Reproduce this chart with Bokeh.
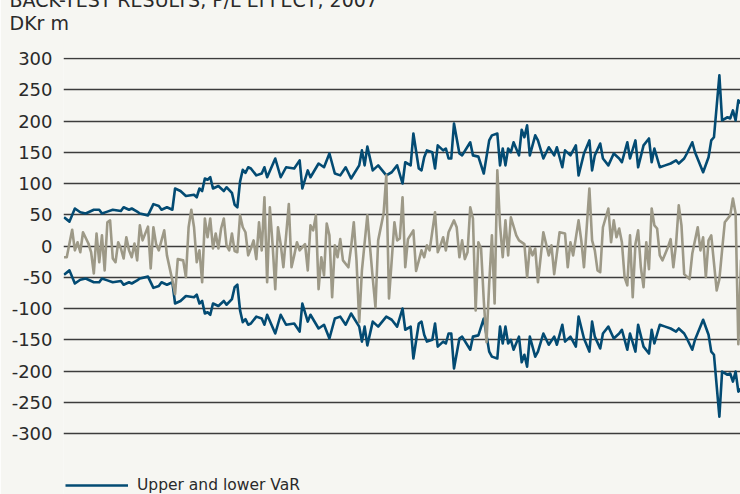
from bokeh.plotting import figure
from bokeh.models import Range1d, FixedTicker, Title, Legend, LegendItem
from bokeh.embed import file_html
from bokeh.resources import INLINE

# Trading day index (2007) and values, DKr m
var_day = [
    0, 2, 4, 6, 8, 11, 13, 14, 16, 18,
    21, 22, 24, 25, 27, 28, 31, 33, 35, 36,
    38, 40, 41, 43, 45, 48, 49, 50, 51, 52,
    53, 54, 55, 57, 59, 60, 62, 63, 64, 65,
    66, 67, 68, 69, 71, 73, 74, 75, 78, 80,
    82, 85, 87, 88, 90, 91, 94, 96, 98, 100,
    102, 104, 106, 109, 110, 111, 112, 114, 116, 119,
    121, 123, 125, 126, 128, 129, 131, 132, 133, 134,
    136, 137, 138, 140, 141, 142, 143, 144, 146, 147,
    150, 151, 153, 155, 157, 158, 160, 161, 162, 163,
    164, 165, 166, 168, 169, 170, 171, 172, 174, 175,
    177, 179, 181, 182, 184, 185, 187, 189, 190, 192,
    194, 195, 196, 198, 199, 201, 203, 205, 206, 208,
    209, 211, 212, 214, 216, 217, 218, 220, 222, 224,
    226, 227, 229, 230, 232, 233, 236, 238, 239, 240,
    242, 243, 245, 246, 247, 248, 249, 250, 251,
]
var_value = [
    46, 39, 60, 54, 52, 58, 58, 52, 55, 58,
    56, 62, 58, 60, 55, 52, 49, 67, 64, 58,
    62, 58, 92, 88, 80, 82, 78, 92, 88, 108,
    106, 110, 92, 96, 88, 94, 85, 66, 62, 103,
    122, 117, 126, 124, 113, 116, 126, 110, 140, 110,
    126, 124, 137, 92, 121, 110, 132, 126, 148, 116,
    113, 126, 108, 129, 153, 129, 159, 121, 129, 113,
    118, 129, 100, 134, 129, 180, 124, 121, 142, 153,
    150, 124, 161, 153, 156, 140, 140, 196, 148, 145,
    166, 145, 143, 116, 169, 177, 180, 129, 156, 129,
    156, 150, 166, 145, 186, 174, 193, 145, 177, 169,
    140, 158, 145, 158, 126, 153, 145, 161, 113, 148,
    169, 121, 145, 164, 140, 129, 148, 140, 134, 166,
    140, 169, 126, 161, 172, 134, 156, 126, 129, 132,
    137, 132, 140, 148, 166, 150, 118, 142, 169, 174,
    273, 201, 206, 204, 217, 201, 233, 228, 236,
]

pl_day = [
    0, 1, 3, 4, 5, 6, 7, 9, 10, 11,
    12, 13, 14, 15, 16, 17, 18, 19, 20, 21,
    22, 23, 24, 25, 26, 27, 28, 29, 31, 32,
    33, 34, 35, 37, 38, 40, 41, 42, 44, 45,
    46, 47, 48, 49, 50, 51, 52, 53, 54, 55,
    56, 57, 58, 59, 60, 61, 62, 63, 64, 65,
    66, 67, 68, 69, 70, 71, 72, 73, 74, 75,
    76, 77, 78, 79, 80, 81, 83, 84, 85, 86,
    87, 89, 90, 91, 92, 93, 94, 95, 96, 97,
    98, 99, 100, 101, 102, 103, 105, 106, 107, 108,
    109, 110, 112, 113, 114, 115, 116, 118, 119, 120,
    122, 123, 124, 125, 126, 127, 129, 130, 132, 133,
    134, 135, 137, 138, 139, 140, 141, 142, 144, 145,
    146, 147, 148, 149, 150, 151, 152, 153, 154, 155,
    156, 157, 158, 159, 160, 161, 162, 163, 164, 165,
    167, 168, 170, 171, 172, 173, 174, 175, 177, 179,
    180, 181, 183, 185, 186, 187, 188, 190, 191, 192,
    194, 195, 196, 197, 198, 199, 201, 202, 203, 204,
    205, 206, 207, 208, 209, 210, 211, 212, 213, 214,
    215, 216, 217, 218, 219, 220, 221, 223, 224, 225,
    226, 227, 228, 229, 231, 232, 234, 235, 236, 237,
    238, 239, 241, 242, 243, 244, 246, 247, 248, 249,
    250, 251,
]
pl_value = [
    -18, -18, 26, -7, 6, -10, 22, 4, -10, -44,
    20, -26, 17, -39, 38, 41, -20, -26, 6, -4,
    -20, 14, -7, -18, 4, -23, 33, 9, 31, -36,
    30, 3, -7, 25, -15, -55, -77, -21, -23, -50,
    30, 58, 30, -26, -7, -58, 44, 14, 44, -4,
    20, -4, 28, 44, 1, -7, 20, -8, -10, 49,
    30, 22, -15, -4, 9, -21, 38, -7, 78, -58,
    62, 3, -69, 30, 3, -34, 67, -34, -15, 6,
    -7, 3, -39, 33, 25, 49, -69, -18, -47, 36,
    17, -82, 1, -18, 11, -23, -34, -2, 38, -23,
    -122, -39, 49, -2, -52, -98, 9, 52, 113, -84,
    38, 9, 12, 78, -34, 11, 25, -40, -7, -18,
    1, -7, 54, -10, 1, 14, -7, 22, 41, 30,
    -18, 9, -21, -10, 62, 44, -103, 6, -4, -87,
    -154, -60, 17, -92, 121, 33, -18, 41, -15, 46,
    17, 9, 3, -50, -2, -15, -4, -58, 22, -15,
    1, -45, 22, 20, -34, 6, -15, 41, 9, -34,
    92, 9, -7, -39, -42, 30, 60, 6, 41, 14,
    28, 6, -50, -63, 17, -82, 3, 25, -34, -66,
    6, -37, 60, 33, 28, -15, -23, -2, 11, -34,
    3, 65, 33, -45, -53, -12, 30, -7, 14, -50,
    9, 17, -71, -53, -7, 38, 49, 76, 52, -157,
    -23, -50,
]

y_ticks = [-300, -250, -200, -150, -100, -50, 0, 50, 100, 150, 200, 250, 300]
y_tick_labels = [str(t) for t in y_ticks]
chart_title = "BACK-TEST RESULTS, P/L EFFECT, 2007"
unit_label = "DKr m"
legend_label = "Upper and lower VaR"

assert len(var_day) == len(var_value)
assert len(pl_day) == len(pl_value)

lower_value = [-v for v in var_value]

BG = "#f6f6f2"
BLUE = "#034b73"
GREY = "#9d9987"
FONT = "DejaVu Sans"
TXT = "#2a2a2a"

SHIFT = 16  # top of the canvas sits above the window, as in the cropped original

p = figure(width=740, height=494 + SHIFT, output_backend="svg", toolbar_location=None,
           x_range=Range1d(-0.2, 249.8), y_range=Range1d(-397.6, 301.6),
           x_axis_location=None,
           min_border_left=63, min_border_right=0, min_border_top=57 + SHIFT,
           min_border_bottom=0)
p.margin = (-SHIFT, 0, 0, 0)
p.background_fill_color = BG
p.border_fill_color = BG
p.outline_line_color = None

ticker = FixedTicker(ticks=y_ticks)
p.yaxis.ticker = ticker
p.yaxis.major_label_overrides = dict(zip(y_ticks, y_tick_labels))
p.yaxis.axis_line_color = None
p.yaxis.major_tick_line_color = None
p.yaxis.minor_tick_line_color = None
p.yaxis.major_tick_out = 0
p.yaxis.major_tick_in = 0
p.yaxis.major_label_standoff = 11
p.yaxis.major_label_text_font = FONT
p.yaxis.major_label_text_font_size = "18px"
p.yaxis.major_label_text_color = TXT

p.ygrid.ticker = ticker
p.ygrid.grid_line_color = "#3c3c3c"
p.ygrid.grid_line_width = 1.3
p.xgrid.grid_line_color = None

r_up = p.line(var_day, var_value, line_color=BLUE, line_width=2.6, line_join="round")
r_lo = p.line(var_day, lower_value, line_color=BLUE, line_width=2.6, line_join="round")
p.line(pl_day, pl_value, line_color=GREY, line_width=2.6, line_join="round")

title_style = dict(align="left", offset=-54, text_font=FONT, text_font_size="19px",
                   text_font_style="normal", text_color=TXT)
# spacer between the frame and the unit label
p.add_layout(Title(text=" ", standoff=0, **title_style), "above")
p.add_layout(Title(text=unit_label, standoff=0, **title_style), "above")
p.add_layout(Title(text=chart_title, standoff=-2, **title_style), "above")

legend = Legend(items=[LegendItem(label=legend_label, renderers=[r_up])],
                location=(2, 0), padding=0, margin=0, spacing=0,
                glyph_width=63, glyph_height=12, label_height=12,
                label_standoff=9, label_text_font=FONT,
                label_text_font_size="15.5px", label_text_color=TXT,
                background_fill_alpha=0, border_line_color=None)
p.add_layout(legend)

open("out.html", "w").write(file_html(p, INLINE))
